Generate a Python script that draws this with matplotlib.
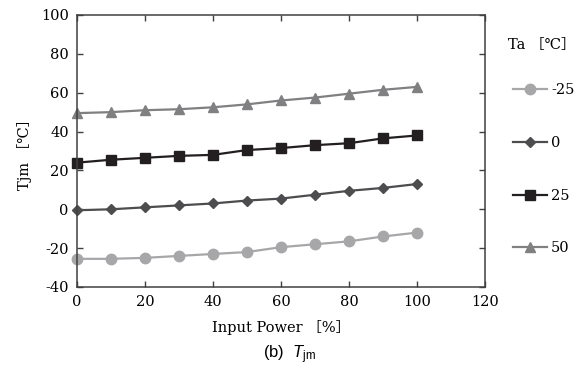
import matplotlib
matplotlib.use("Agg")
import matplotlib.pyplot as plt

# data
power = [0, 10, 20, 30, 40, 50, 60, 70, 80, 90, 100]
ta_labels = ["-25", "0", "25", "50"]
tjm_m25 = [-25.5, -25.5, -25, -24, -23, -22, -19.5, -18, -16.5, -14, -12]
tjm_0 = [-0.5, 0, 1, 2, 3, 4.5, 5.5, 7.5, 9.5, 11, 13]
tjm_25 = [24, 25.5, 26.5, 27.5, 28, 30.5, 31.5, 33, 34, 36.5, 38]
tjm_50 = [49.5, 50, 51, 51.5, 52.5, 54, 56, 57.5, 59.5, 61.5, 63]

plt.rcParams["font.family"] = ["DejaVu Serif", "Noto Sans CJK JP"]
plt.rcParams["axes.unicode_minus"] = False
plt.rcParams["mathtext.fontset"] = "custom"
plt.rcParams["mathtext.rm"] = "Liberation Sans"
plt.rcParams["mathtext.it"] = "Liberation Sans:italic"

FS = 10.5


def main():
    fig = plt.figure(figsize=(5.78, 3.83), dpi=100)
    ax = fig.add_axes([77 / 578, 1 - 287 / 383, 408 / 578, 272 / 383])

    series = [tjm_m25, tjm_0, tjm_25, tjm_50]
    colors = ["#a7a7a9", "#4d4d4f", "#231f20", "#808082"]
    markers = ["o", "D", "s", "^"]
    msizes = [7.5, 5.5, 7, 7.5]
    for vals, lab, c, m, ms in zip(series, ta_labels, colors, markers, msizes):
        ax.plot(power, vals, color=c, marker=m, markersize=ms, lw=1.6,
                label=lab, clip_on=False)

    ax.set_xlim(0, 120)
    ax.set_ylim(-40, 100)
    ax.set_xticks(range(0, 121, 20))
    ax.set_yticks(range(-40, 101, 20))
    ax.tick_params(direction="in", top=True, right=True, labelsize=FS,
                   length=4, width=1, color="#404040", pad=6)
    for s in ax.spines.values():
        s.set_color("#404040")
        s.set_linewidth(1.1)

    ax.set_xlabel("Input Power ［%］", fontsize=FS, labelpad=8)
    ax.set_ylabel("Tjm ［℃］", fontsize=FS, labelpad=6)

    ax.legend(loc="upper left", bbox_to_anchor=(1.055, 0.77),
              frameon=False, fontsize=FS, labelspacing=2.65,
              handlelength=2.3, handletextpad=0.3, borderaxespad=0)
    fig.text(508 / 578, 1 - 45 / 383, "Ta ［℃］", fontsize=FS,
             ha="left", va="center")

    fig.text(290 / 578, 1 - 355 / 383, r"(b)  $T_{\mathrm{jm}}$",
             family="Liberation Sans", fontsize=12, ha="center", va="center")

    fig.savefig("out.png", dpi=100)


if __name__ == "__main__":
    main()
